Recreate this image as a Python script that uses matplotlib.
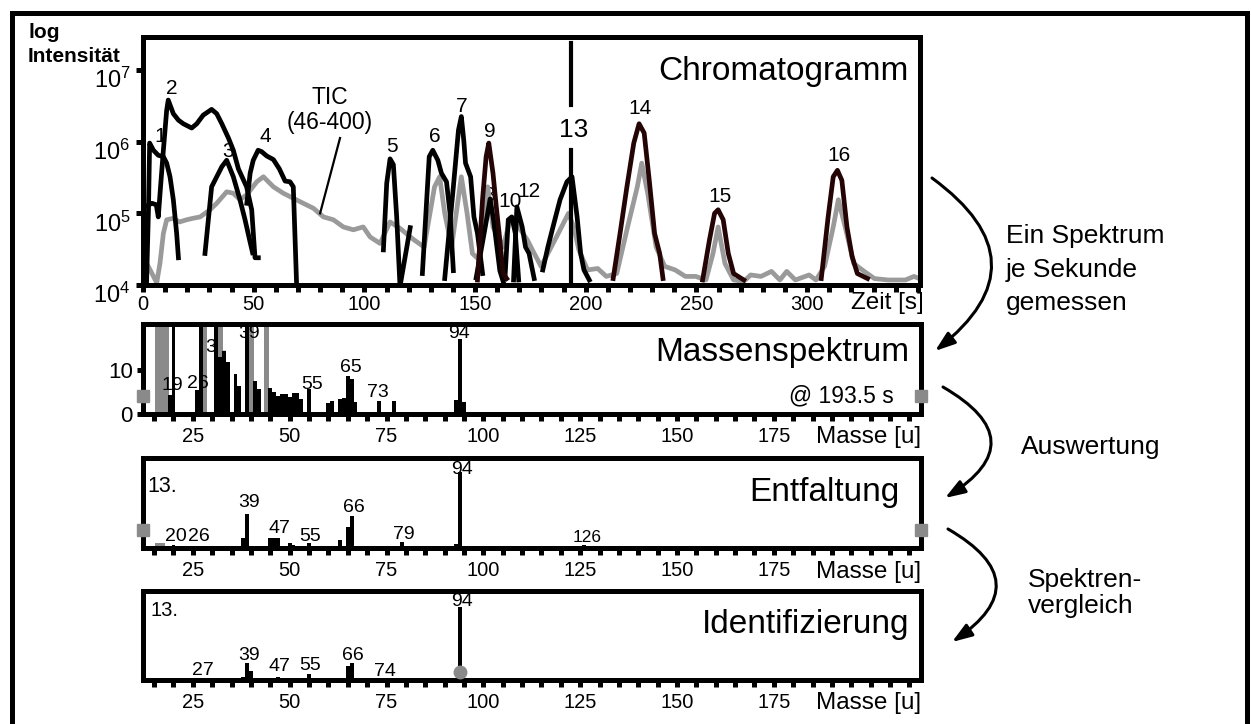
import matplotlib
matplotlib.use('Agg')
import matplotlib.pyplot as plt
import matplotlib.transforms as mtransforms
from matplotlib.patches import FancyArrowPatch
from matplotlib.lines import Line2D
from matplotlib.ticker import FixedLocator, MultipleLocator, NullLocator, NullFormatter

plt.rcParams['font.family'] = ['Liberation Sans', 'DejaVu Sans']
plt.rcParams['mathtext.fontset'] = 'custom'
plt.rcParams['mathtext.rm'] = 'Liberation Sans'
plt.rcParams['mathtext.it'] = 'Liberation Sans:italic'
plt.rcParams['mathtext.bf'] = 'Liberation Sans:bold'

# ---------------- Chromatogram data: time [s] / log10 intensity ----------------
tic_t = [1.7, 3.9, 6.2, 7.7, 9.2, 10.7, 13.7, 16.5, 19.7, 22.5, 25.8, 30.3, 33.3, 37.8, 40.8,
         43.8, 46.9, 51.4, 54.4, 58.9, 63.4, 67.9, 72.4, 77.0, 81.5, 86.0, 90.5, 95.0, 99.5,
         102.6, 107.1, 111.6, 116.1, 122.4, 127.0, 131.7, 134.0, 136.3, 139.4, 143.8, 146.4,
         148.8, 151.9, 155.7, 158.1, 162.7, 165.8, 169.7, 173.6, 175.9, 179.8, 182.9, 187.6,
         192.2, 194.6, 196.9, 200.8, 205.4, 209.3, 214.0, 218.6, 223.3, 225.3, 228.0, 231.8,
         235.7, 240.4, 245.0, 249.7, 254.3, 257.5, 259.8, 262.9, 266.8, 271.4, 274.5, 279.2,
         283.9, 287.7, 290.8, 294.7, 300.9, 304.0, 307.9, 311.8, 314.1, 317.2, 321.1, 325.8,
         330.4, 336.6, 344.4, 348.3, 353.7]
tic_logI = [4.30, 4.17, 4.03, 4.31, 4.72, 4.91, 4.93, 4.88, 4.91, 4.93, 4.95, 5.05, 5.14, 5.30, 5.28,
            5.19, 5.26, 5.44, 5.51, 5.37, 5.28, 5.21, 5.14, 5.07, 4.95, 4.91, 4.81, 4.77, 4.81,
            4.67, 4.58, 4.88, 4.79, 4.63, 4.53, 5.37, 5.51, 5.00, 4.53, 5.51, 5.00,
            4.44, 4.35, 5.37, 4.81, 4.53, 4.91, 4.81, 4.63, 4.49, 4.26, 4.44, 4.72,
            5.00, 4.81, 4.49, 4.21, 4.23, 4.12, 4.16, 4.77, 5.37, 5.70, 5.28, 4.53,
            4.26, 4.21, 4.12, 4.12, 4.07, 4.44, 4.81, 4.30, 4.07, 4.05, 4.14, 4.12,
            4.19, 4.07, 4.19, 4.07, 4.14, 4.07, 4.26, 4.81, 5.19, 4.81, 4.30, 4.19,
            4.09, 4.07, 4.07, 4.12, 4.05]

p01_t = [1.5, 2.5, 3.0, 4.7, 6.9, 9.2, 10.7, 12.2, 13.7, 15.2, 16.0]
p01_L = [3.90, 5.09, 5.98, 5.88, 5.81, 5.79, 5.70, 5.51, 5.19, 4.72, 4.38]
p02_t = [1.5, 4.0, 6.0, 6.9, 8.0, 9.2, 10.7, 11.4, 13.7, 16.0, 18.2, 22.0, 24.3, 27.2, 31.0,
         33.3, 35.6, 38.6, 40.8, 43.1, 46.8, 49.1, 50.6, 52.1]
p02_L = [5.10, 5.14, 5.12, 4.95, 5.40, 5.88, 6.44, 6.58, 6.39, 6.30, 6.25, 6.19, 6.25, 6.37, 6.45,
         6.39, 6.25, 6.05, 5.88, 5.62, 5.37, 5.05, 4.38, 4.38]
p03_t = [28.0, 31.0, 33.3, 35.6, 37.8, 40.8, 43.8, 46.1, 48.0, 49.5]
p03_L = [4.44, 5.37, 5.51, 5.65, 5.74, 5.51, 5.19, 4.91, 4.65, 4.45]
p04_t = [46.9, 48.4, 49.8, 52.0, 53.6, 55.9, 58.9, 61.6, 64.2, 66.4, 67.9, 69.4]
p04_L = [5.14, 5.56, 5.74, 5.88, 5.86, 5.80, 5.75, 5.62, 5.45, 5.44, 5.37, 4.00]
p05_t = [108.6, 110.1, 111.6, 113.1, 114.6, 116.1, 120.7]
p05_L = [4.49, 5.42, 5.76, 5.68, 4.95, 3.98, 4.80]
p06_t = [126.2, 129.3, 130.9, 133.2, 134.8, 137.1, 138.7, 140.2]
p06_L = [4.16, 5.79, 5.88, 5.74, 5.56, 5.44, 5.00, 4.20]
p07_t = [136.3, 140.2, 142.5, 143.8, 144.9, 145.7, 148.0, 149.5, 151.1, 153.4]
p07_L = [4.09, 5.37, 6.16, 6.35, 6.02, 5.70, 5.51, 4.95, 4.72, 4.16]
p08_t = [150.5, 153.4, 155.7, 156.8, 158.4, 161.2, 162.7]
p08_L = [4.10, 4.60, 5.00, 5.20, 4.90, 4.20, 4.05]
p09_t = [151.1, 153.4, 155.0, 156.2, 158.1, 159.6, 161.2, 162.7, 164.3]
p09_L = [4.07, 5.20, 5.79, 5.98, 5.56, 5.09, 4.63, 4.16, 4.09]
p10_t = [163.5, 165.0, 166.6, 168.2, 169.7]
p10_L = [4.09, 4.91, 4.95, 4.72, 4.07]
p12_t = [167.4, 168.9, 171.3, 172.8, 174.4, 176.7]
p12_L = [4.07, 5.09, 4.81, 4.53, 4.44, 4.09]
p13_t = [180.6, 182.9, 185.2, 188.4, 191.5, 193.8, 196.1, 197.7, 199.2, 201.6]
p13_L = [4.21, 4.53, 4.81, 5.19, 5.44, 5.51, 4.95, 4.44, 4.21, 4.07]
p14_t = [212.4, 215.5, 218.6, 221.7, 224.1, 226.4, 228.7, 231.1, 233.4, 234.9]
p14_L = [4.09, 4.72, 5.37, 5.98, 6.25, 6.12, 5.46, 4.72, 4.44, 4.09]
p15_t = [252.8, 255.9, 258.2, 259.8, 262.1, 264.4, 266.8, 271.4]
p15_L = [4.07, 4.63, 5.00, 5.05, 4.91, 4.44, 4.16, 4.07]
p16_t = [306.4, 309.5, 311.8, 313.7, 315.7, 318.0, 320.3, 322.7, 327.3]
p16_L = [4.09, 4.95, 5.51, 5.60, 5.46, 4.81, 4.40, 4.16, 4.09]

black_peaks = [(p01_t, p01_L), (p02_t, p02_L), (p03_t, p03_L), (p04_t, p04_L), (p05_t, p05_L),
               (p06_t, p06_L), (p07_t, p07_L), (p08_t, p08_L), (p10_t, p10_L), (p12_t, p12_L),
               (p13_t, p13_L)]
dark_peaks = [(p09_t, p09_L), (p14_t, p14_L), (p15_t, p15_L), (p16_t, p16_L)]

peak_labels = ['1', '2', '3', '4', '5', '6', '7', '8', '9', '10', '12', '14', '15', '16']
peak_label_t = [7.7, 12.9, 38.6, 55.1, 112.4, 131.7, 143.8, 156.2, 156.5, 165.8, 174.4, 224.5, 260.5, 314.5]
peak_label_L = [6.07, 6.74, 5.86, 6.07, 5.93, 6.07, 6.49, 5.25, 6.14, 5.16, 5.30, 6.46, 5.23, 5.81]

marker_label = '13'
marker_time = 193.5
marker_label_L = 6.16
marker_gap_L = (5.88, 6.51)
marker_top_L = 7.38

tic_text = 'TIC\n(46-400)'
tic_text_pos = (84.5, 6.44)
tic_leader_t = [89.0, 80.0]
tic_leader_L = [6.05, 5.00]

time_ticks = [0, 50, 100, 150, 200, 250, 300]
decades = [4, 5, 6, 7]

# ---------------- Mass spectrum @193.5 s ----------------
ms_black_mass = [19, 20, 26, 27, 31, 32, 33, 34, 36, 37, 39, 41, 42, 45, 46, 47, 48, 49, 50, 51,
                 52, 53, 55, 60, 61, 63, 64, 65, 66, 67, 73, 77, 93, 94, 95]
ms_black_val = [4.3, 25, 5.4, 25, 25, 13.0, 14.4, 11.9, 9.0, 6.4, 25, 7.5, 5.6, 6.0, 4.9, 4.1, 4.6, 4.6, 3.8, 4.7,
                4.7, 3.5, 5.8, 2.6, 3.0, 3.5, 3.7, 8.6, 7.9, 2.8, 3.0, 2.9, 3.2, 17.1, 2.8]
ms_grey_mass = [16, 17, 18, 28, 32, 40, 44]
ms_grey_val = [25, 25, 25, 25, 25, 25, 25]
ms_labels = ['19', '26', '31', '39', '55', '65', '73', '94']
ms_label_x = [19.8, 26.2, 31.1, 39.4, 55.7, 65.8, 72.8, 93.7]
ms_label_y = [6.4, 7.0, 15.2, 18.4, 6.8, 10.5, 5.0, 18.4]
ms_marker_level = 4.1

# ---------------- Deconvoluted spectrum (Entfaltung) ----------------
de_black_mass = [20, 26, 38, 39, 45, 46, 47, 50, 51, 55, 63, 65, 66, 79, 93, 94, 126]
de_black_val = [4, 3, 12.7, 44.6, 12.7, 12.7, 13.5, 6, 4, 6, 10.5, 28, 42, 7.4, 5, 100, 4]
de_grey_mass = [16, 17, 28, 32]
de_grey_val = [6, 6, 2, 2]
de_labels = ['20', '26', '39', '47', '55', '66', '79', '94']
de_label_x = [20.5, 26.5, 39.4, 47.4, 55.4, 66.6, 79.5, 94.4]
de_label_y = [15.7, 15.7, 59.0, 26.2, 15.7, 53.7, 18.3, 103.5]
de_small_label = ('126', 126.8, 14.4)
de_marker_level = 23.6

# ---------------- Library spectrum (Identifizierung) ----------------
id_black_mass = [38, 39, 40, 47, 50, 51, 55, 63, 65, 66, 94]
id_black_val = [4.5, 23, 13, 4.5, 3, 3, 8, 3, 19, 23, 100]
id_labels = ['27', '39', '47', '55', '66', '74', '94']
id_label_x = [27.5, 39.4, 47.4, 55.4, 66.3, 74.6, 94.4]
id_label_y = [12.8, 33.0, 17.9, 19.3, 33.0, 11.0, 107.7]
id_marker = (94, 11)

mass_ticks = [25, 50, 75, 100, 125, 150, 175]

# ---------------- Figure ----------------
W, H = 1251, 724
fig = plt.figure(figsize=(W / 100, H / 100), dpi=100)


def fpx(x, y):
    return (x / W, 1 - y / H)


def axes_px(l, t, r, b):
    return fig.add_axes([l / W, 1 - b / H, (r - l) / W, (b - t) / H])


SPINE = 3.6
GREY = '#9a9a9a'
BARGREY = '#8a8a8a'
DARK = '#240404'


def style_frame(ax):
    for s in ax.spines.values():
        s.set_linewidth(SPINE)
        s.set_capstyle('projecting')


# Chromatogram
ax = axes_px(143, 37, 920, 285)
style_frame(ax)
ax.set_yscale('log')
ax.set_xlim(0, 351)
ax.set_ylim(10 ** 4, 10 ** 7.46)
ax.plot(tic_t, [10 ** v for v in tic_logI], color=GREY, lw=3.4, solid_joinstyle='round', zorder=2)
for tt, ll in black_peaks:
    ax.plot(tt, [10 ** v for v in ll], color='black', lw=3.4, solid_joinstyle='round', zorder=3)
for tt, ll in dark_peaks:
    ax.plot(tt, [10 ** v for v in ll], color=DARK, lw=3.4, solid_joinstyle='round', zorder=3)
for lab, tt, ll in zip(peak_labels, peak_label_t, peak_label_L):
    ax.text(tt, 10 ** ll, lab, fontsize=15, ha='center', va='center', zorder=1)
ax.plot([marker_time, marker_time], [10 ** 4, 10 ** marker_gap_L[0]], color='black', lw=3, zorder=4)
ax.plot([marker_time, marker_time], [10 ** marker_gap_L[1], 10 ** marker_top_L], color='black', lw=3, zorder=4)
ax.text(marker_time + 1.0, 10 ** marker_label_L, marker_label, fontsize=19, ha='center', va='center', zorder=5)
ax.text(tic_text_pos[0], 10 ** tic_text_pos[1], tic_text, fontsize=16.5, ha='center', va='center',
        linespacing=1.1)
ax.plot(tic_leader_t, [10 ** v for v in tic_leader_L], color='black', lw=1.6)
ax.text(0.985, 0.86, 'Chromatogramm', transform=ax.transAxes, fontsize=24, ha='right', va='center')
ax.xaxis.set_major_locator(FixedLocator(time_ticks))
ax.xaxis.set_minor_locator(MultipleLocator(10))
ax.set_xticklabels([str(v) for v in time_ticks])
ax.yaxis.set_major_locator(FixedLocator([10 ** d for d in decades]))
ax.yaxis.set_minor_locator(NullLocator())
ax.yaxis.set_minor_formatter(NullFormatter())
ax.set_yticklabels([r'$\mathregular{10^{%d}}$' % d for d in decades])
ax.tick_params(axis='x', which='both', direction='out', length=5, width=3.6, labelsize=14.5, pad=2)
ax.tick_params(axis='y', which='both', direction='out', length=5, width=3.6, labelsize=17, pad=4)
shift_down = mtransforms.ScaledTranslation(0, -0.08, fig.dpi_scale_trans)
for lbl in ax.get_yticklabels():
    lbl.set_transform(lbl.get_transform() + shift_down)
fig.text(*fpx(924, 303), 'Zeit [s]', fontsize=17.5, ha='right', va='center')
fig.text(*fpx(28, 32), 'log', fontsize=15, fontweight='bold', ha='left', va='center')
fig.text(*fpx(28, 56), 'Intensität', fontsize=15, fontweight='bold', ha='left', va='center')


def spectrum_axes(t, b, ylim):
    a = axes_px(142.5, t, 921, b)
    style_frame(a)
    a.set_xlim(12, 213)
    a.set_ylim(0, ylim)
    a.xaxis.set_major_locator(FixedLocator(mass_ticks))
    a.xaxis.set_minor_locator(MultipleLocator(5))
    a.set_xticklabels([str(v) for v in mass_ticks])
    a.tick_params(axis='x', which='both', direction='out', length=5, width=3.6, labelsize=14.5, pad=4)
    return a


# Mass spectrum
ax2 = spectrum_axes(324, 414, 20.5)
ax2.bar(ms_grey_mass, ms_grey_val, width=1.5, color=BARGREY, linewidth=0, zorder=2)
ax2.bar(ms_black_mass, ms_black_val, width=1.0, color='black', linewidth=0, zorder=3)
for lab, xx, yy in zip(ms_labels, ms_label_x, ms_label_y):
    ax2.text(xx, yy, lab, fontsize=14, ha='center', va='center', zorder=1 if lab == '31' else 4)
ax2.plot([12, 213], [ms_marker_level, ms_marker_level], ls='none', marker='s', ms=8, color=BARGREY,
         clip_on=False, zorder=5)
ax2.yaxis.set_major_locator(FixedLocator([0, 10]))
ax2.tick_params(axis='y', direction='out', length=4, width=3.6, labelsize=16, pad=3)
ax2.text(0.985, 0.68, 'Massenspektrum', transform=ax2.transAxes, fontsize=24, ha='right', va='center')
ax2.text(0.965, 0.2, '@ 193.5 s', transform=ax2.transAxes, fontsize=16.5, ha='right', va='center')
fig.text(*fpx(921, 437), 'Masse [u]', fontsize=17.5, ha='right', va='center')

# Entfaltung
ax3 = spectrum_axes(458, 548, 118)
ax3.bar(de_grey_mass, de_grey_val, width=1.5, color=BARGREY, linewidth=0, zorder=2)
ax3.bar(de_black_mass, de_black_val, width=1.0, color='black', linewidth=0, zorder=3)
for lab, xx, yy in zip(de_labels, de_label_x, de_label_y):
    ax3.text(xx, yy, lab, fontsize=14, ha='center', va='center', zorder=4)
ax3.text(de_small_label[1], de_small_label[2], de_small_label[0], fontsize=12.5, ha='center', va='center')
ax3.plot([12, 213], [de_marker_level, de_marker_level], ls='none', marker='s', ms=8, color=BARGREY,
         clip_on=False, zorder=5)
ax3.yaxis.set_major_locator(NullLocator())
ax3.text(0.006, 0.68, '13.', transform=ax3.transAxes, fontsize=15.5, ha='left', va='center')
ax3.text(0.972, 0.62, 'Entfaltung', transform=ax3.transAxes, fontsize=24, ha='right', va='center')
fig.text(*fpx(921, 572), 'Masse [u]', fontsize=17.5, ha='right', va='center')

# Identifizierung
ax4 = spectrum_axes(591, 680, 122)
ax4.bar(id_black_mass, id_black_val, width=1.0, color='black', linewidth=0, zorder=3)
for lab, xx, yy in zip(id_labels, id_label_x, id_label_y):
    ax4.text(xx, yy, lab, fontsize=14, ha='center', va='center', zorder=4)
ax4.plot([id_marker[0]], [id_marker[1]], ls='none', marker='o', ms=9, color=BARGREY, zorder=4)
ax4.yaxis.set_major_locator(NullLocator())
ax4.text(0.01, 0.78, '13.', transform=ax4.transAxes, fontsize=14.5, ha='left', va='center')
ax4.text(0.985, 0.62, 'Identifizierung', transform=ax4.transAxes, fontsize=24, ha='right', va='center')
fig.text(*fpx(921, 703), 'Masse [u]', fontsize=17.5, ha='right', va='center')

# Outer frame
for (x1, y1), (x2, y2) in [((12.5, 730), (12.5, 12.5)), ((12.5, 12.5), (1247, 12.5)),
                           ((1247, 12.5), (1247, 730))]:
    fig.add_artist(Line2D([x1 / W, x2 / W], [1 - y1 / H, 1 - y2 / H], transform=fig.transFigure,
                          color='black', lw=3.6, solid_capstyle='projecting'))

# Process arrows and texts
arrows = [((932, 178), (935, 351), -0.66), ((943, 387), (945, 498), -0.83), ((948, 529), (952, 642), -0.8)]
for pa, pb, rad in arrows:
    arr = FancyArrowPatch(fpx(*pa), fpx(*pb), transform=fig.transFigure,
                          connectionstyle='arc3,rad=%f' % rad,
                          arrowstyle='-|>,head_length=0.8,head_width=0.28', mutation_scale=15,
                          lw=2.2, color='black', shrinkA=0, shrinkB=0)
    fig.add_artist(arr)

fig.text(*fpx(1006, 236), 'Ein Spektrum', fontsize=19, ha='left', va='center')
fig.text(*fpx(1006, 270), 'je Sekunde', fontsize=19, ha='left', va='center')
fig.text(*fpx(1006, 303), 'gemessen', fontsize=19, ha='left', va='center')
fig.text(*fpx(1091, 447), 'Auswertung', fontsize=19, ha='center', va='center')
fig.text(*fpx(1028, 580), 'Spektren-', fontsize=19, ha='left', va='center')
fig.text(*fpx(1028, 606), 'vergleich', fontsize=19, ha='left', va='center')

fig.savefig('out.png', dpi=100)
